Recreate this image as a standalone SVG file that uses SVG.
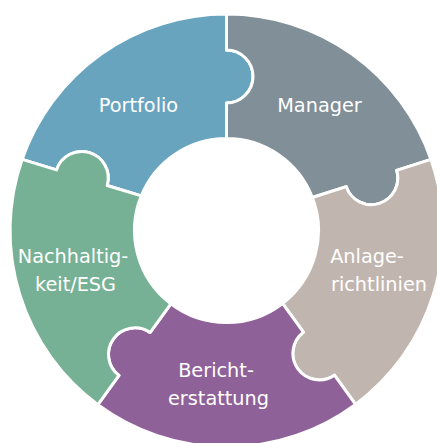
<svg xmlns="http://www.w3.org/2000/svg" width="437" height="443" viewBox="0 0 437 443">
<style>
.p{stroke:#FFFFFF;stroke-width:3;stroke-linejoin:round}
.t{font-family:"DejaVu Sans","Liberation Sans",sans-serif;font-size:19.3px;fill:#FFFFFF;text-anchor:middle}
</style>
<rect width="437" height="443" fill="#FFFFFF"/>
<g id="portfolio">
<path class="p" fill="#69A4BF" d="M 141.26 195.91 L 107.18 185.46 A 26.5 26.5 0 0 0 56.51 169.93 L 22.1 159.4 A 216.5 216.5 0 0 1 226.5 14 L 226.5 50 A 26.5 26.5 0 0 1 226.5 103 L 226.5 138.5 A 92 92 0 0 0 141.26 195.91 Z"/>
<text class="t" x="138.5" y="112">Portfolio</text>
</g>
<g id="manager">
<path class="p" fill="#818F98" d="M 226.5 138.5 L 226.5 103 A 26.5 26.5 0 0 0 226.5 50 L 226.5 14 A 216.5 216.5 0 0 1 431.0 159.4 L 396.68 170.42 A 26.5 26.5 0 0 1 346.23 186.64 L 312.38 197.52 A 92 92 0 0 0 226.5 138.5 Z"/>
<text class="t" x="319.5" y="112">Manager</text>
</g>
<g id="anlagerichtlinien">
<path class="p" fill="#C1B6AF" d="M 312.38 197.52 L 346.23 186.64 A 26.5 26.5 0 0 0 396.68 170.42 L 431.0 159.4 A 216.5 216.5 0 0 1 355.57 404.35 L 334.45 375.15 A 26.5 26.5 0 0 1 303.39 332.22 L 282.57 303.44 A 92 92 0 0 0 312.38 197.52 Z"/>
<text class="t" x="367" y="263">Anlage-</text>
<text class="t" x="379" y="291">richtlinien</text>
</g>
<g id="berichterstattung">
<path class="p" fill="#8E6199" d="M 282.57 303.44 L 303.39 332.22 A 26.5 26.5 0 0 0 334.45 375.15 L 355.57 404.35 A 216.5 216.5 0 0 1 97.9 404.7 L 118.98 375.47 A 26.5 26.5 0 0 1 150.04 332.54 L 170.85 303.77 A 92 92 0 0 0 282.57 303.44 Z"/>
<text class="t" x="216" y="377">Bericht-</text>
<text class="t" x="218.5" y="404.5">erstattung</text>
</g>
<g id="nachhaltigkeit">
<path class="p" fill="#77B195" d="M 170.85 303.77 L 150.04 332.54 A 26.5 26.5 0 0 0 118.98 375.47 L 97.9 404.7 A 216.5 216.5 0 0 1 22.1 159.4 L 56.51 169.93 A 26.5 26.5 0 0 1 107.18 185.46 L 141.26 195.91 A 92 92 0 0 0 170.85 303.77 Z"/>
<text class="t" x="73" y="263">Nachhaltig-</text>
<text class="t" x="75.5" y="291">keit/ESG</text>
</g>
<g id="connectors"/>
</svg>
